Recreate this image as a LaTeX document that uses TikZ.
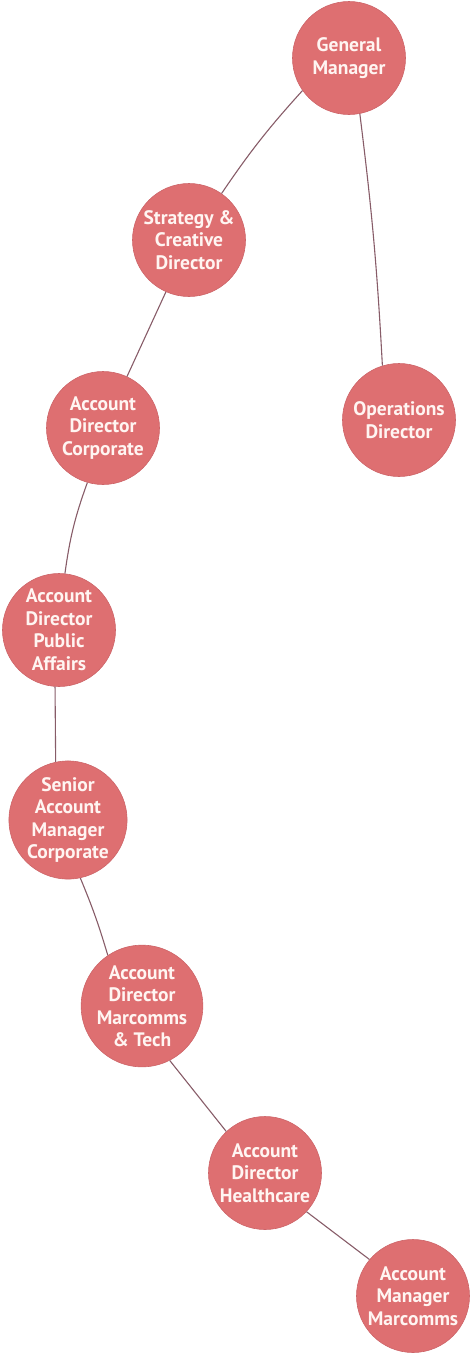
\documentclass[tikz,border=0pt]{standalone}
\usepackage{fontspec}
\setmainfont{PT Sans}
\definecolor{nodefill}{RGB}{222,111,113}
\definecolor{nodeedge}{RGB}{205,100,104}
\definecolor{linkcol}{RGB}{135,92,104}
\definecolor{txtcol}{RGB}{255,245,242}
\begin{document}
\begin{tikzpicture}[x=1pt,y=-1pt,
  person/.style={circle,fill=nodefill,draw=nodeedge,line width=0.6pt,minimum size=113pt,inner sep=0pt,
    text=txtcol,font=\bfseries\fontsize{19.5}{22.5}\selectfont,align=center},
  link/.style={draw=linkcol,line width=1.1pt}]
\useasboundingbox (0,0) rectangle (473,1353);
\node[person] (gm)  at (349,58)   {General\\Manager};
\node[person] (sc)  at (189,240)  {Strategy \&\\Creative\\Director};
\node[person] (ops) at (399,420)  {Operations\\Director};
\node[person] (adc) at (103,428)  {Account\\Director\\Corporate};
\node[person] (adpa) at (59,630)  {Account\\Director\\Public\\Affairs};
\node[person] (samc) at (68,820)  {Senior\\Account\\Manager\\Corporate};
\node[person] (admt) at (142,1006) {Account\\Director\\Marcomms\\\& Tech};
\node[person] (adh) at (265,1173) {Account\\Director\\Healthcare};
\node[person] (amm) at (413,1296) {Account\\Manager\\Marcomms};
\draw[link] (gm.215) to[bend right=4] (sc.55);
\draw[link] (gm.281) to[bend left=2] (ops.107);
\draw[link] (sc.246) -- (adc.65);
\draw[link] (adc.254) to[bend right=6] (adpa.84);
\draw[link] (adpa.266) -- (samc.102);
\draw[link] (samc.282) to[bend left=3] (admt.124);
\draw[link] (admt.297) -- (adh.133);
\draw[link] (adh.317) -- (amm.140);
\end{tikzpicture}
\end{document}
